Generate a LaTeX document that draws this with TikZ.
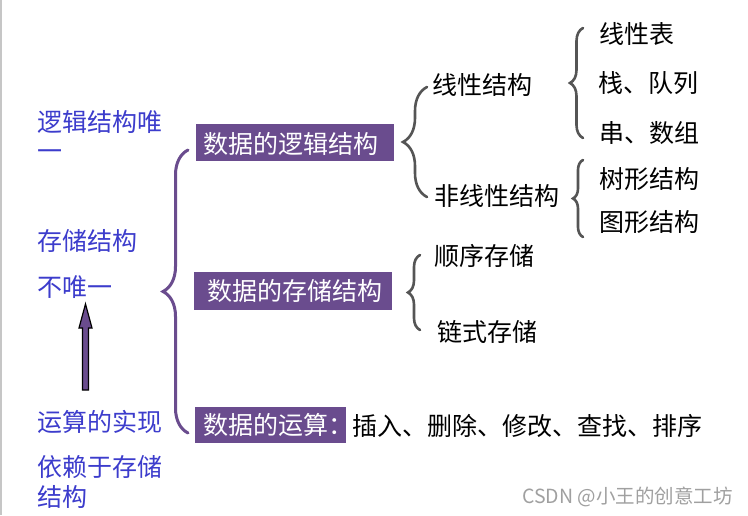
\documentclass[tikz,border=0pt]{standalone}
\usepackage{fontspec}
\setmainfont{Noto Sans CJK SC}
\usetikzlibrary{decorations.pathreplacing}
\definecolor{pur}{HTML}{6A4C8E}
\definecolor{bluet}{HTML}{3C3CCC}
\definecolor{bracegray}{HTML}{555555}
\definecolor{wmgray}{HTML}{A0A0A0}
\begin{document}
\begin{tikzpicture}[x=1pt,y=-1pt,
  txt/.style={font=\fontsize{25}{29}\selectfont, inner sep=0pt, anchor=base west, align=left},
  bluetxt/.style={txt, text=bluet},
  blacktxt/.style={txt, text=black},
  whitetxt/.style={txt, text=white},
  pbox/.style={fill=pur, draw=none, inner sep=0pt, anchor=north west},
  pbrace/.style={decorate, draw=pur, line width=3pt, line cap=round},
  gbrace/.style={decorate, draw=bracegray, line width=2.6pt, line cap=round}]
\useasboundingbox (0,0) rectangle (748,515);
\fill[white] (0,0) rectangle (748,515);
\draw[line width=1.5pt, draw=gray!45] (0.75,0) -- (0.75,515);

% left notes (multi-line nodes: base = last line)
\node[bluetxt] (n1) at (37,160) {逻辑结构唯\\一};
\node[bluetxt] (n2) at (37,250.5) {存储结构};
\node[bluetxt] (n3) at (37,296.5) {不唯一};
\node[bluetxt] (n4) at (37,431) {运算的实现};
\node[bluetxt, font=\fontsize{25}{30.5}\selectfont] (n5) at (37,506.5) {依赖于存储\\结构};

% arrow from 运算的实现 up to 不唯一
\coordinate (abot) at (85.5,390);
\coordinate (atop) at (85.5,304);
\filldraw[fill=pur, draw=black, line width=1.2pt, line join=miter]
  ([xshift=-3pt]abot) -- ([xshift=-3pt]abot |- 0,328) -- ([xshift=-6.5pt]atop |- 0,328)
  -- (atop) -- ([xshift=6.5pt]atop |- 0,328) -- ([xshift=3pt]abot |- 0,328)
  -- ([xshift=3pt]abot) -- cycle;

% purple boxes
\node[pbox, minimum width=198pt, minimum height=37pt] (b1) at (196,124) {};
\node[whitetxt] (b1t) at (203,153) {数据的逻辑结构};
\node[pbox, minimum width=198pt, minimum height=38pt] (b2) at (194,272) {};
\node[whitetxt] (b2t) at (207,300.5) {数据的存储结构};
\node[pbox, minimum width=151pt, minimum height=36pt] (b3) at (195,407) {};
\node[whitetxt] (b3t) at (203,434.5) {数据的运算：};
\node[blacktxt] (ops) at (352,435) {插入、删除、修改、查找、排序};

% big brace
\coordinate (B0t) at (188,150);
\coordinate (B0b) at (188,433);
\draw[pbrace, decoration={brace, amplitude=25pt}] (B0b) -- (B0t);

% logical structure
\node[blacktxt] (lin) at (432,94.5) {线性结构};
\node[blacktxt] (nlin) at (434,205.5) {非线性结构};
\coordinate (B1t) at (427,87);
\coordinate (B1b) at (427,197);
\draw[gbrace, decoration={brace, amplitude=24pt}] (B1b) -- (B1t);

\node[blacktxt] (l1) at (599,43) {线性表};
\node[blacktxt] (l2) at (598,92.5) {栈、队列};
\node[blacktxt] (l3) at (599,142.5) {串、数组};
\coordinate (B2t) at (583,28);
\coordinate (B2b) at (583,138);
\draw[gbrace, decoration={brace, amplitude=13pt}] (B2b) -- (B2t);

\node[blacktxt] (t1) at (599,188.5) {树形结构};
\node[blacktxt] (t2) at (599,231) {图形结构};
\coordinate (B3t) at (583,160);
\coordinate (B3b) at (583,237);
\draw[gbrace, decoration={brace, amplitude=10pt}] (B3b) -- (B3t);

% storage structure
\node[blacktxt] (s1) at (434,265.5) {顺序存储};
\node[blacktxt] (s2) at (437,341.5) {链式存储};
\coordinate (B4t) at (420,255);
\coordinate (B4b) at (420,330);
\draw[gbrace, decoration={brace, amplitude=12pt}] (B4b) -- (B4t);

% watermark
\node[txt, font=\fontsize{19.5}{24}\selectfont, text=wmgray] (wm) at (522,503.5) {CSDN @小王的创意工坊};
\end{tikzpicture}
\end{document}
